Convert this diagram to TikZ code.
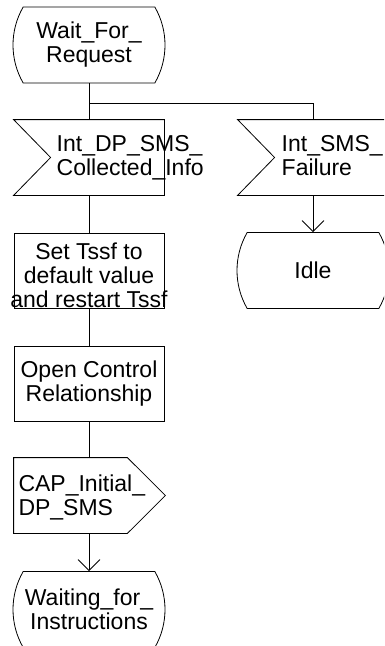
\documentclass[tikz,border=0pt]{standalone}
\usepackage{fontspec}
\setmainfont{Liberation Sans}
\usetikzlibrary{positioning, arrows.meta, shapes.misc}

\begin{document}
\begin{tikzpicture}[
    x=1pt, y=-1pt,
    font=\fontsize{23}{24}\selectfont,
    % Styles definition
    base/.style={line width=0.8pt, align=center, inner sep=0pt},
    state/.style={base, draw=black, rounded rectangle, rounded rectangle arc length=60, minimum width=149pt, minimum height=76pt},
    task/.style={base, draw=black, rectangle, minimum width=150pt, minimum height=75pt},
    input/.style={base, rectangle, minimum width=150pt, minimum height=75pt},
    output/.style={base, rectangle, minimum width=151pt, minimum height=75pt},
    sigtext/.style={anchor=north west, align=left, inner sep=0pt},
    outline/.style={draw=black, line width=0.8pt},
    link/.style={draw=black, line width=0.8pt},
    arrow/.style={link, -{Straight Barb[length=11pt, width=22pt]}}
]
\useasboundingbox (0,0) rectangle (384,646);
\clip (0,0) rectangle (384,646);

% 1. Start state
\node[state] (waitreq) at (89,45) {Wait\_For\_\\Request};
\coordinate (branch) at (89,103);

% 2. Inputs
\node[input] (intdp) at (89,157.5) {};
\node[sigtext] (intdptxt) at (56.5,135.5) {Int\_DP\_SMS\_\\Collected\_Info};
\node[input] (intfail) at (313,157.5) {};
\node[sigtext] (intfailtxt) at (281.5,135.5) {Int\_SMS\_\\Failure};

% 3. Tasks
\node[task] (settssf) at (89,270.5) {};
\node[anchor=north, align=center, inner sep=0pt] (settssftxt) at (89,243) {Set Tssf to\\default value\\and restart Tssf};
\node[task] (openctrl) at (89,383.5) {Open Control\\Relationship};

% 4. Output
\node[output] (capinit) at (89.5,495.5) {};
\node[sigtext] (capinittxt) at (18.3,475) {CAP\_Initial\_\\DP\_SMS};

% 5. Next states
\node[state] (waitinstr) at (89,609.5) {Waiting\_for\_\\Instructions};
\node[state] (idle) at (313,270.5) {Idle};

% --- Signal outlines ---
\draw[outline] (intdp.north west) -- (intdp.north east) -- (intdp.south east) -- (intdp.south west) -- ([xshift=37pt]intdp.west) -- cycle;
\draw[outline] (intfail.north west) -- (intfail.north east) -- (intfail.south east) -- (intfail.south west) -- ([xshift=37pt]intfail.west) -- cycle;
\draw[outline] (capinit.north west) -- ([xshift=-38pt]capinit.north east) -- (capinit.east) -- ([xshift=-38pt]capinit.south east) -- (capinit.south west) -- cycle;

% --- Routing / Arrows ---
\draw[link] (waitreq.south) -- (intdp.north);
\draw[link] (branch) -| (intfail.north);
\draw[link] (intdp.south) -- (settssf.north);
\draw[link] (settssf.south) -- (openctrl.north);
\draw[link] (openctrl.south) -- ([xshift=-0.5pt]capinit.north);
\draw[arrow] ([xshift=-0.5pt]capinit.south) -- (waitinstr.north);
\draw[arrow] (intfail.south) -- (idle.north);

\end{tikzpicture}
\end{document}
